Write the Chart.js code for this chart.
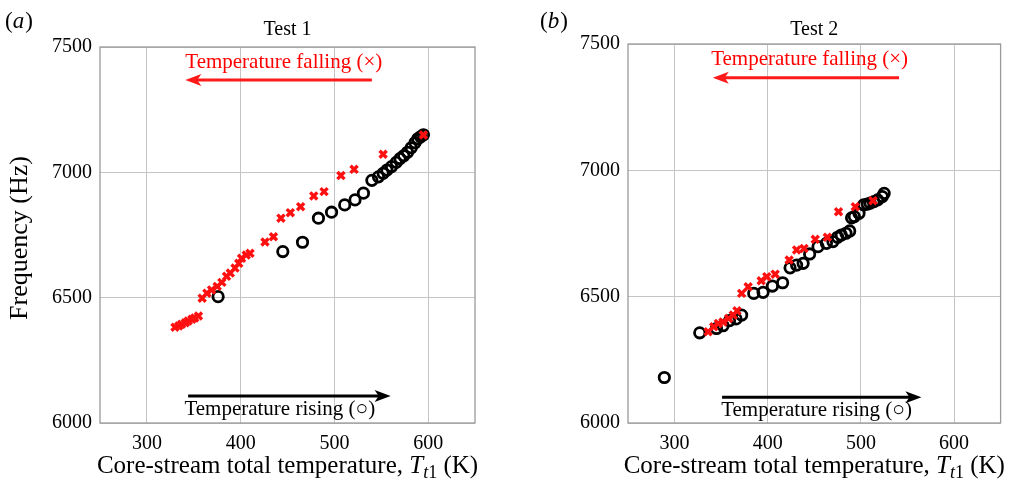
<!DOCTYPE html>
<html><head><meta charset="utf-8">
<script src="https://cdn.jsdelivr.net/npm/chart.js@4.4.1/dist/chart.umd.min.js"></script>
<style>
html,body{margin:0;padding:0;background:#fff;}
#wrap{position:relative;width:1009px;height:493px;overflow:hidden;}
#ca{position:absolute;left:0;top:0;}
#cb{position:absolute;left:500px;top:0;}
</style></head><body>
<div id="wrap"><canvas id="ca" width="500" height="493"></canvas><canvas id="cb" width="509" height="493"></canvas></div>
<script>
// ---------- data ----------
const xTickValues = [300, 400, 500, 600];
const yTickValues = [6000, 6500, 7000, 7500];

const test1RisingT = [376,445,466,483,497,511,522,531,540,547,552,556,561,566,570,574,578,582,586,589,592,595];
const test1RisingF = [6504,6684,6721,6817,6841,6870,6890,6917,6968,6982,6996,7009,7023,7040,7055,7066,7080,7098,7118,7134,7142,7150];
const test1FallingT = [595,552,521,507,489,478,464,453,443,435,426,410,406,401,398,394,389,385,380,375,369,364,359,355,351,348,344,341,337,334,330];
const test1FallingF = [7149,7072,7012,6987,6923,6906,6863,6839,6817,6743,6722,6677,6670,6657,6637,6618,6598,6585,6561,6545,6531,6518,6498,6427,6419,6414,6407,6400,6394,6387,6382];

const test2RisingT = [289,327,345,352,359,366,372,385,395,405,416,424,431,438,445,454,463,470,475,479,484,488,490,493,498,503,507,510,514,518,523,525];
const test2RisingF = [6180,6357,6374,6385,6405,6412,6427,6513,6517,6542,6555,6614,6625,6632,6669,6698,6711,6718,6735,6744,6751,6760,6812,6817,6830,6863,6866,6870,6876,6883,6896,6909];
const test2FallingT = [513,494,476,464,451,439,431,423,408,399,393,379,372,367,363,358,352,347,342,336];
const test2FallingF = [6880,6856,6836,6735,6727,6691,6685,6645,6589,6579,6563,6539,6513,6444,6427,6414,6400,6394,6381,6361];

const panelTitles = ['Test 1', 'Test 2'];
const panelLetters = ['a', 'b'];
const fallingLabel = 'Temperature falling (×)';
const risingLabel = 'Temperature rising (○)';

// ---------- helpers ----------
const SERIF = '"Liberation Serif", "Times New Roman", serif';
function pts(xs, ys){ return xs.map((x,i)=>({x:x, y:ys[i]})); }

function arrow(ctx, x1, y, x2, color){
  const dir = Math.sign(x2 - x1);
  ctx.save();
  ctx.strokeStyle = color; ctx.fillStyle = color; ctx.lineWidth = 3;
  ctx.beginPath(); ctx.moveTo(x1, y); ctx.lineTo(x2 - dir*10, y); ctx.stroke();
  ctx.beginPath(); ctx.moveTo(x2, y); ctx.lineTo(x2 - dir*16, y - 6); ctx.lineTo(x2 - dir*12, y); ctx.lineTo(x2 - dir*16, y + 6); ctx.closePath(); ctx.fill();
  ctx.restore();
}

const deco = {
  id: 'deco',
  beforeDraw(chart){
    const ctx = chart.ctx;
    ctx.save(); ctx.fillStyle = '#fff'; ctx.fillRect(0,0,chart.width,chart.height); ctx.restore();
  },
  beforeDatasetsDraw(chart){
    const a = chart.chartArea, ctx = chart.ctx;
    ctx.save(); ctx.strokeStyle = '#9a9a9a'; ctx.lineWidth = 1.3;
    ctx.strokeRect(a.left, a.top, a.right - a.left, a.bottom - a.top);
    ctx.restore();
  },
  afterDraw(chart, args, o){
    const ctx = chart.ctx, a = chart.chartArea, xs = chart.scales.x, ys = chart.scales.y;
    const cx = (a.left + a.right)/2;
    ctx.save();
    // panel letter
    ctx.fillStyle = '#000'; ctx.textBaseline = 'alphabetic';
    ctx.font = '23px ' + SERIF; ctx.textAlign = 'left';
    let lx = o.letterX;
    ctx.fillText('(', lx, 28); lx += ctx.measureText('(').width;
    ctx.font = 'italic 23px ' + SERIF; ctx.fillText(o.letter, lx, 28); lx += ctx.measureText(o.letter).width + 1;
    ctx.font = '23px ' + SERIF; ctx.fillText(')', lx, 28);
    // title
    ctx.font = '20px ' + SERIF; ctx.textAlign = 'center';
    ctx.fillText(o.title, cx, 35);
    // falling annotation
    ctx.fillStyle = '#ff0000'; ctx.font = '21px ' + SERIF; ctx.textAlign = 'center'; ctx.textBaseline = 'middle';
    ctx.fillText(fallingLabel, xs.getPixelForValue(o.fallTextX), ys.getPixelForValue(o.fallTextY));
    arrow(ctx, xs.getPixelForValue(o.fallFrom), ys.getPixelForValue(o.fallY), xs.getPixelForValue(o.fallTo), '#ff1a1a');
    // rising annotation
    ctx.fillStyle = '#000'; ctx.textAlign = 'left';
    ctx.fillText(risingLabel, xs.getPixelForValue(o.riseTextX), ys.getPixelForValue(o.riseTextY));
    arrow(ctx, xs.getPixelForValue(o.riseFrom), ys.getPixelForValue(o.riseY), xs.getPixelForValue(o.riseTo), '#000');
    // x-axis title with italic T and subscript t1
    const base = 473;
    const p1 = 'Core-stream total temperature, ';
    ctx.textBaseline = 'alphabetic'; ctx.textAlign = 'left'; ctx.fillStyle = '#000';
    ctx.font = '25px ' + SERIF; const w1 = ctx.measureText(p1).width;
    ctx.font = 'italic 25px ' + SERIF; const wT = ctx.measureText('T').width;
    ctx.font = 'italic 18px ' + SERIF; const wt = ctx.measureText('t').width;
    ctx.font = '18px ' + SERIF; const w1s = ctx.measureText('1').width;
    ctx.font = '25px ' + SERIF; const wK = ctx.measureText(' (K)').width;
    let x = cx - (w1 + wT + wt + w1s + wK)/2;
    ctx.font = '25px ' + SERIF; ctx.fillText(p1, x, base); x += w1;
    ctx.font = 'italic 25px ' + SERIF; ctx.fillText('T', x, base); x += wT;
    ctx.font = 'italic 18px ' + SERIF; ctx.fillText('t', x, base + 5); x += wt;
    ctx.font = '18px ' + SERIF; ctx.fillText('1', x, base + 5); x += w1s;
    ctx.font = '25px ' + SERIF; ctx.fillText(' (K)', x, base);
    // y-axis title
    if (o.yTitle){
      ctx.translate(20, (a.top + a.bottom)/2 + 3); ctx.rotate(-Math.PI/2);
      ctx.textAlign = 'center'; ctx.textBaseline = 'middle'; ctx.font = '26px ' + SERIF;
      ctx.fillText(o.yTitle, 0, 0);
    }
    ctx.restore();
  }
};

function makeChart(id, rising, falling, o, axisW, padTop, padRight){
  return new Chart(document.getElementById(id), {
    type: 'scatter',
    data: { datasets: [
      { label: 'falling', data: falling, pointStyle: 'crossRot', radius: 5, borderColor: '#ff1010', backgroundColor: '#ff1010', borderWidth: 3.4, order: 1 },
      { label: 'rising', data: rising, pointStyle: 'circle', radius: 5.2, borderColor: '#000', backgroundColor: 'rgba(0,0,0,0)', borderWidth: 2.8, order: 2 }
    ]},
    options: {
      responsive: false, animation: false, devicePixelRatio: 1,
      layout: { padding: { left: 0, right: padRight, top: padTop, bottom: 0 } },
      plugins: { legend: { display: false }, tooltip: { enabled: false }, deco: o },
      scales: {
        x: { type: 'linear', min: 250, max: 650,
          afterBuildTicks: s => { s.ticks = xTickValues.map(v => ({ value: v })); },
          afterFit: s => { s.height = 70; },
          grid: { color: '#c4c4c4', lineWidth: 1, drawTicks: false },
          border: { display: false },
          ticks: { color: '#000', font: { family: SERIF, size: 20 }, padding: 9, maxRotation: 0, callback: v => String(v) } },
        y: { type: 'linear', min: 6000, max: 7500,
          afterBuildTicks: s => { s.ticks = yTickValues.map(v => ({ value: v })); },
          afterFit: s => { s.width = axisW; },
          grid: { color: '#c4c4c4', lineWidth: 1, drawTicks: false },
          border: { display: false },
          ticks: { color: '#000', font: { family: SERIF, size: 20 }, padding: 8, callback: v => String(v) } }
      }
    },
    plugins: [deco]
  });
}

makeChart('ca', pts(test1RisingT, test1RisingF), pts(test1FallingT, test1FallingF), {
  letter: panelLetters[0], letterX: 5, title: panelTitles[0], yTitle: 'Frequency (Hz)',
  fallTextX: 446, fallTextY: 7440, fallFrom: 540, fallTo: 341, fallY: 7368,
  riseTextX: 340, riseTextY: 6052, riseFrom: 344, riseTo: 560, riseY: 6108
}, 100, 47, 25);

makeChart('cb', pts(test2RisingT, test2RisingF), pts(test2FallingT, test2FallingF), {
  letter: panelLetters[1], letterX: 40, title: panelTitles[1], yTitle: null,
  fallTextX: 445, fallTextY: 7438, fallFrom: 541, fallTo: 341, fallY: 7366,
  riseTextX: 350, riseTextY: 6050, riseFrom: 351, riseTo: 565, riseY: 6102
}, 128, 44, 7);
</script>
</body></html>
